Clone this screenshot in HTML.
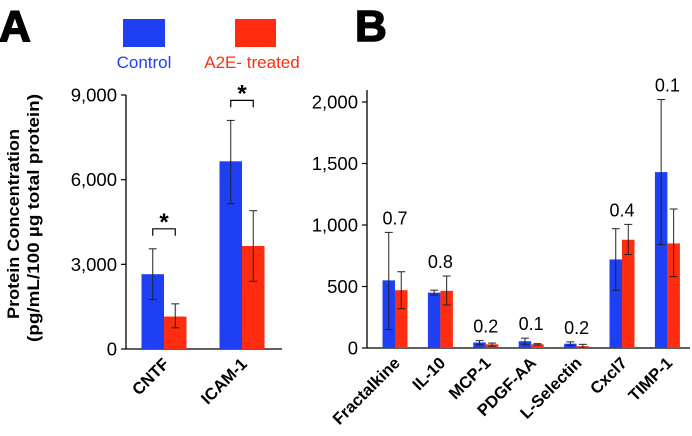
<!DOCTYPE html>
<html><head><meta charset="utf-8"><style>
html,body{margin:0;padding:0;background:#fff;}
svg{display:block;font-family:"Liberation Sans",Arial,sans-serif;}
</style></head><body>
<svg id="chart" width="692" height="436" viewBox="0 0 692 436">
<text x="-1" y="41" font-size="44" font-weight="bold" stroke="#000" stroke-width="1.5">A</text>
<text x="355" y="41" font-size="44" font-weight="bold" stroke="#000" stroke-width="1.5">B</text>
<rect x="123" y="19" width="42" height="28" fill="#1f3ff5"/>
<text x="144" y="68" font-size="17" fill="#1f3ff5" text-anchor="middle">Control</text>
<rect x="235" y="19" width="41" height="28" fill="#ff2d0f"/>
<text x="252" y="68" font-size="17" fill="#ff2d0f" text-anchor="middle">A2E- treated</text>
<g transform="translate(19,224) rotate(-90)">
<text x="0" y="0" font-size="17" font-weight="bold" text-anchor="middle" textLength="190" lengthAdjust="spacingAndGlyphs">Protein Concentration</text>
<text x="6" y="20" font-size="17" font-weight="bold" text-anchor="middle" textLength="248" lengthAdjust="spacingAndGlyphs">(pg/mL/100 µg total protein)</text>
</g>
<g id="pa"></g><g id="pb"></g>
</svg>
<script>
const catsA=["CNTF","ICAM-1"];
const ctrlA=[2650,6650];
const ctrlALo=[1750,5150];
const ctrlAHi=[3550,8100];
const trtA=[1150,3650];
const trtALo=[750,2400];
const trtAHi=[1600,4900];
const ticksA=[0,3000,6000,9000];
const tickLabelsA=["0","3,000","6,000","9,000"];

const catsB=["Fractalkine","IL-10","MCP-1","PDGF-AA","L-Selectin","Cxcl7","TIMP-1"];
const ctrlB=[550,450,45,55,35,720,1430];
const ctrlBLo=[150,430,25,30,20,470,840];
const ctrlBHi=[940,470,60,80,50,970,2020];
const trtB=[470,465,30,30,15,880,850];
const trtBLo=[320,350,15,25,0,760,580];
const trtBHi=[620,585,40,35,30,1005,1130];
const pvals=["0.7","0.8","0.2","0.1","0.2","0.4","0.1"];
const ticksB=[0,500,1000,1500,2000];
const tickLabelsB=["0","500","1,000","1,500","2,000"];

const NS="http://www.w3.org/2000/svg";
function mk(p,t,a){const e=document.createElementNS(NS,t);for(const k in a)e.setAttribute(k,a[k]);p.appendChild(e);return e;}

function panel(g,o){
  const y=v=>o.y0-(v/o.max)*(o.y0-o.yTop);
  const x=i=>o.x0+o.first+i*o.step;
  let ax=mk(g,"line",{x1:o.axX,y1:o.axTop,x2:o.axX,y2:o.y0,stroke:"#000","stroke-width":1.3});
  
  
  let bx=mk(g,"line",{x1:o.axX,y1:o.y0,x2:o.axEnd,y2:o.y0,stroke:"#000","stroke-width":1.3});
  
  
  o.ticks.forEach((t,i)=>{
    mk(g,"line",{x1:o.axX-5,y1:y(t),x2:o.axX,y2:y(t),stroke:"#000","stroke-width":1.2});
    const tl=mk(g,"text",{x:o.axX-9,y:y(t)+6.5,"font-size":18.5,"text-anchor":"end"});
    tl.textContent=o.tickLabels[i];
    
    
  });
  o.cats.forEach((c,i)=>{
    const cx=x(i);
    [[o.ctrl,o.cLo,o.cHi,"#1f3ff5",cx-o.bw],[o.trt,o.tLo,o.tHi,"#ff2d0f",cx]].forEach((s,k)=>{
      const r=mk(g,"rect",{x:s[4],y:y(s[0][i]),width:o.bw,height:o.y0-y(s[0][i]),fill:s[3]});
      
      
      const ex=s[4]+o.bw/2;
      mk(g,"line",{x1:ex,y1:y(s[1][i]),x2:ex,y2:y(s[2][i]),stroke:"#222","stroke-width":1});
      mk(g,"line",{x1:ex-4,y1:y(s[1][i]),x2:ex+4,y2:y(s[1][i]),stroke:"#222","stroke-width":1});
      mk(g,"line",{x1:ex-4,y1:y(s[2][i]),x2:ex+4,y2:y(s[2][i]),stroke:"#222","stroke-width":1});
    });
    const lab=mk(g,"text",{transform:`translate(${cx+6},${o.y0+16}) rotate(-45)`,"font-size":16.5,"font-weight":"bold","text-anchor":"end"});
    lab.textContent=c;
    
    
    if(o.pv){
      const top=Math.max(o.cHi[i],o.tHi[i]);
      const pt=mk(g,"text",{x:cx,y:y(top)-8,"font-size":18,"text-anchor":"middle"});
      pt.textContent=o.pv[i];
      
      
    }
    if(o.sig){
      const by=y(Math.max(o.cHi[i],o.tHi[i]))-20;
      const b1=cx-o.bw/2,b2=cx+o.bw/2;
      const br=mk(g,"path",{d:`M${b1},${by+7}V${by}H${b2}V${by+7}`,fill:"none",stroke:"#000","stroke-width":1.2});
      
      
      const st=mk(g,"text",{x:cx,y:by+1,"font-size":24,"font-weight":"bold","text-anchor":"middle"});
      st.textContent="*";
      
      
    }
  });
}
panel(document.getElementById("pa"),{cats:catsA,ctrl:ctrlA,cLo:ctrlALo,cHi:ctrlAHi,trt:trtA,tLo:trtALo,tHi:trtAHi,
  ticks:ticksA,tickLabels:tickLabelsA,max:9000,y0:349,yTop:95,axX:126,axTop:95,axEnd:282,x0:126,first:38,step:78,bw:22.5,sig:true});
panel(document.getElementById("pb"),{cats:catsB,ctrl:ctrlB,cLo:ctrlBLo,cHi:ctrlBHi,trt:trtB,tLo:trtBLo,tHi:trtBHi,
  ticks:ticksB,tickLabels:tickLabelsB,max:2000,y0:348,yTop:102,axX:367,axTop:90,axEnd:690,x0:367,first:28,step:45.4,bw:12.5,pv:pvals});
</script>
</body></html>
